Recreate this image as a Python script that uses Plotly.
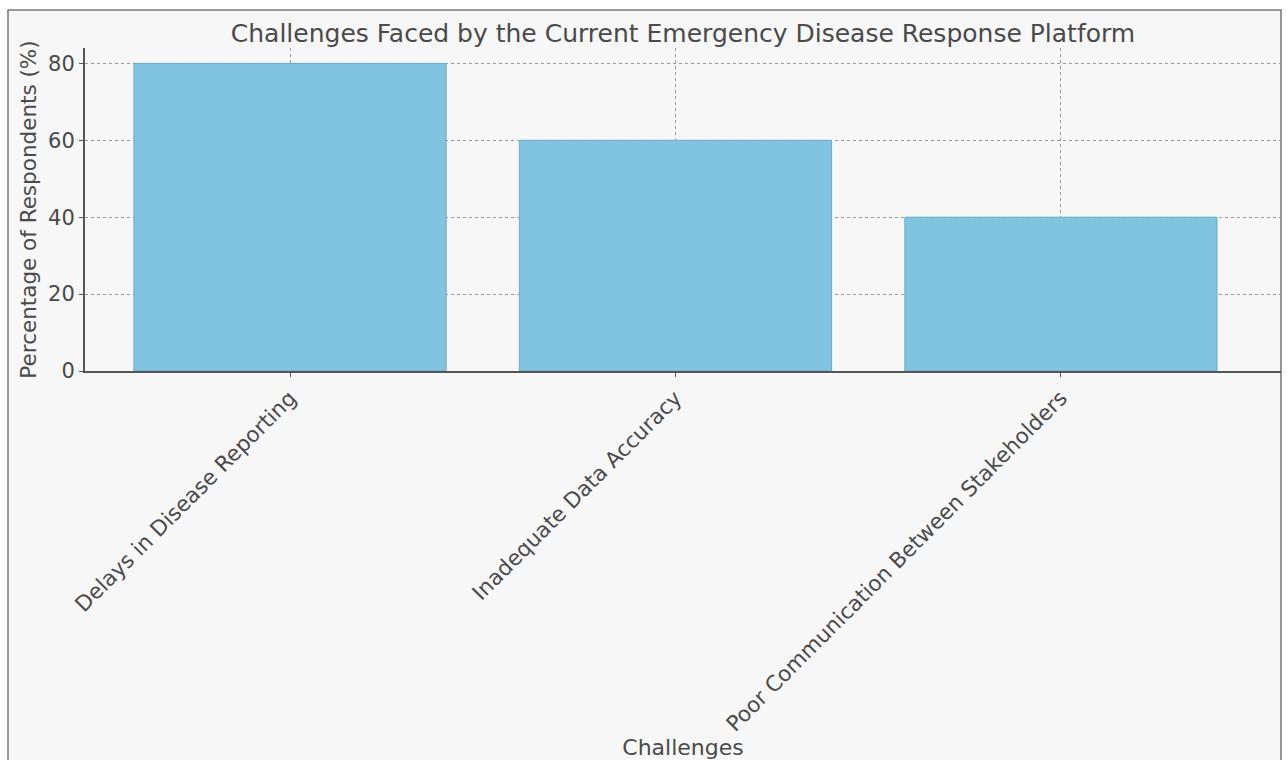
import plotly.graph_objects as go

# Survey results: share of respondents naming each challenge
challenges = [
    "Delays in Disease Reporting",
    "Inadequate Data Accuracy",
    "Poor Communication Between Stakeholders",
]
percentages = [80, 60, 40]
y_ticks = [0, 20, 40, 60, 80]

FONT = "DejaVu Sans, sans-serif"
TEXT = "#4a4a4a"

fig = go.Figure(
    go.Bar(
        x=challenges,
        y=percentages,
        width=0.81,
        marker=dict(color="#80c4e2", line=dict(color="#6aaecb", width=1)),
        showlegend=False,
    )
)

fig.update_layout(
    width=1287,
    height=760,
    paper_bgcolor="#ffffff",
    plot_bgcolor="rgba(0,0,0,0)",
    margin=dict(l=85, r=6, t=48, b=389),
    font=dict(family=FONT, color=TEXT, size=20),
    title=dict(
        text="Challenges Faced by the Current Emergency Disease Response Platform",
        x=0.5,
        xref="paper",
        y=1 - 33 / 760,
        yanchor="middle",
        font=dict(size=25, color=TEXT),
    ),
    shapes=[
        # light figure panel with a thin frame
        dict(
            type="rect",
            xref="paper",
            yref="paper",
            x0=-(85 - 8) / 1196,
            x1=1.0,
            y0=-(389 + 20) / 323,
            y1=1 + (48 - 10) / 323,
            fillcolor="#f7f7f7",
            line=dict(color="#777777", width=1.5),
            layer="below",
        )
    ],
)

fig.update_xaxes(
    range=[-0.532, 2.571],
    automargin=False,
    tickangle=-45,
    tickfont=dict(size=21.5, color=TEXT),
    showgrid=True,
    gridcolor="#9a9a9a",
    griddash="dot",
    gridwidth=1,
    showline=True,
    linecolor="#555555",
    linewidth=2,
    ticks="outside",
    ticklen=4,
    tickcolor="#555555",
    title=dict(text="Challenges", font=dict(size=22, color=TEXT), standoff=4),
)
fig.update_yaxes(
    range=[0, 84],
    automargin=False,
    tickvals=y_ticks,
    tickfont=dict(size=21, color=TEXT),
    showgrid=True,
    gridcolor="#9a9a9a",
    griddash="dot",
    gridwidth=1,
    zeroline=False,
    showline=True,
    linecolor="#555555",
    linewidth=2,
    ticks="outside",
    ticklen=4,
    tickcolor="#555555",
    title=dict(text="Percentage of Respondents (%)", font=dict(size=21.5, color=TEXT), standoff=6),
)

fig.write_html("out.html")
